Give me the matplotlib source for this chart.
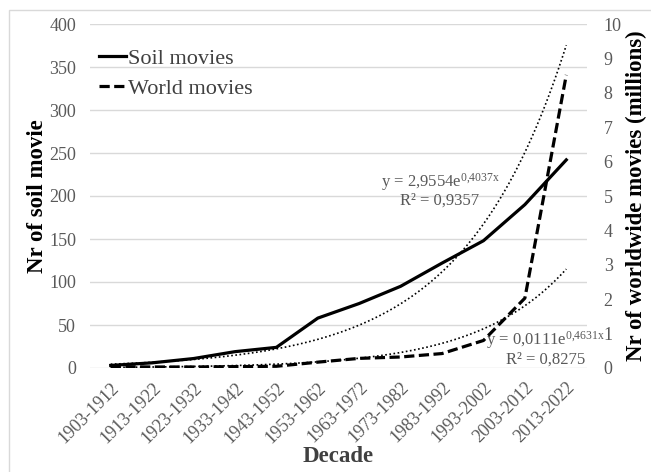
import numpy as np
import matplotlib
matplotlib.use("Agg")
import matplotlib.pyplot as plt
from matplotlib.patches import Rectangle

plt.rcParams["font.family"] = ["Liberation Serif", "DejaVu Serif"]
plt.rcParams["mathtext.fontset"] = "custom"
plt.rcParams["mathtext.rm"] = "Liberation Serif"
plt.rcParams["mathtext.it"] = "Liberation Serif"

# Decades and counts
decades = ["1903-1912", "1913-1922", "1923-1932", "1933-1942", "1943-1952",
           "1953-1962", "1963-1972", "1973-1982", "1983-1992", "1993-2002",
           "2003-2012", "2013-2022"]
soil_movies = [3, 6, 11, 19, 24, 58, 75, 95, 122, 148, 190, 242]
world_movies_millions = [0.04, 0.03, 0.03, 0.04, 0.05, 0.17, 0.28, 0.32,
                         0.42, 0.80, 2.03, 8.52]

# Exponential trendline coefficients (y = a * exp(b * x), x = 1..12)
soil_trend_a, soil_trend_b, soil_r2 = 2.9554, 0.4037, 0.9357
world_trend_a, world_trend_b, world_r2 = 0.0111, 0.4631, 0.8275

left_ticks = [0, 50, 100, 150, 200, 250, 300, 350, 400]
right_ticks = [0, 1, 2, 3, 4, 5, 6, 7, 8, 9, 10]

TICK_GRAY = "#595959"

fig = plt.figure(figsize=(6.51, 4.72), dpi=100)
fig.patches.append(Rectangle((9 / 651, -0.1), 1.2, (472 - 10) / 472 + 0.1,
                             transform=fig.transFigure, fill=False,
                             edgecolor="#d9d9d9", linewidth=1.0))

ax = fig.add_axes([90 / 651, (472 - 368) / 472, 497 / 651, 344 / 472])
ax2 = ax.twinx()

x = np.arange(len(decades))
xs = np.linspace(0, len(decades) - 1, 300)

# Gridlines on the primary axis
for t in left_ticks:
    ax.axhline(t, color="#d9d9d9", linewidth=1.0, zorder=0)

soil_line, = ax.plot(x, soil_movies, color="black", linewidth=2.3,
                     label="Soil movies", solid_joinstyle="round", zorder=4)
ax.plot(xs, soil_trend_a * np.exp(soil_trend_b * (xs + 1)), color="black",
        linewidth=1.2, dashes=(1, 1.5), zorder=3)

world_line, = ax2.plot(x, world_movies_millions, color="black", linewidth=2.3,
                       dashes=(3.2, 1.4), label="World movies", zorder=4)
ax2.plot(xs, world_trend_a * np.exp(world_trend_b * (xs + 1)), color="black",
         linewidth=1.2, dashes=(1, 1.5), zorder=3)

ax.set_xlim(-0.5, len(decades) - 0.5)
ax.set_ylim(0, 400)
ax2.set_ylim(0, 10)
ax.set_yticks(left_ticks)
ax2.set_yticks(right_ticks)
ax.set_xticks(x)
ax.set_xticklabels(decades, rotation=45, ha="right", rotation_mode="anchor")

for a in (ax, ax2):
    for s in a.spines.values():
        s.set_visible(False)
    a.set_facecolor("none")

ax.tick_params(axis="x", length=0, pad=8, labelsize=13, labelcolor=TICK_GRAY)
ax.tick_params(axis="y", length=0, pad=10, labelsize=13, labelcolor=TICK_GRAY)
ax2.tick_params(axis="y", length=0, pad=12, labelsize=13, labelcolor=TICK_GRAY)

ax.set_xlabel("Decade", fontsize=16.5, fontweight="bold", color="#404040",
              labelpad=0)
ax.set_ylabel("Nr of soil movie", fontsize=16.5, fontweight="bold",
              labelpad=1)
ax2.set_ylabel("Nr of worldwide movies (millions)", fontsize=16.5,
               fontweight="bold", labelpad=3)

# Trendline equations
ax.text(7.95, 216, r"y = 2,9554e$^{\mathrm{0{,}4037x}}$", ha="center",
        va="center", fontsize=12, color=TICK_GRAY, zorder=5)
ax.text(7.95, 195, f"R² = {str(soil_r2).replace('.', ',')}", ha="center",
        va="center", fontsize=12, color=TICK_GRAY, zorder=5)
ax.text(10.49, 32.6, r"y = 0,0111e$^{\mathrm{0{,}4631x}}$", ha="center",
        va="center", fontsize=12, color=TICK_GRAY, zorder=5,
        clip_on=False)
ax.text(10.49, 9.3, f"R² = {str(world_r2).replace('.', ',')}", ha="center",
        va="center", fontsize=12, color=TICK_GRAY, zorder=5)

leg = ax.legend([soil_line, world_line], ["Soil movies", "World movies"],
                loc="upper left", bbox_to_anchor=(-0.013, 0.975),
                frameon=False, fontsize=16, handlelength=1.2,
                handletextpad=0.1, labelspacing=0.42, borderaxespad=0.3)
for txt in leg.get_texts():
    txt.set_color("#404040")

fig.savefig("out.png", dpi=100)
